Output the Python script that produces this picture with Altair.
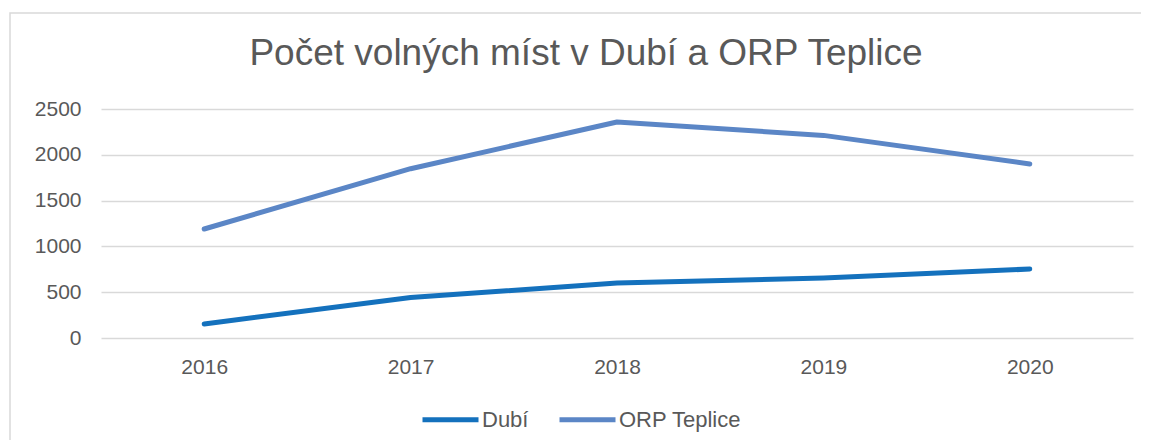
import altair as alt
import pandas as pd

years = ["2016", "2017", "2018", "2019", "2020"]
dubi = [153, 443, 600, 655, 753]
orp_teplice = [1190, 1848, 2358, 2212, 1900]
series_names = ["Dubí", "ORP Teplice"]
series_colors = ["#1471bd", "#5b86c6"]
y_ticks = [0, 500, 1000, 1500, 2000, 2500]
title_text = "Počet volných míst v Dubí a ORP Teplice"

rows = []
for name, vals in zip(series_names, [dubi, orp_teplice]):
    for yr, v in zip(years, vals):
        rows.append({"rok": yr, "hodnota": v, "serie": name})
df = pd.DataFrame(rows)

FONT = "Liberation Sans"
GRAY = "#595959"

lines = alt.Chart(df).mark_line(strokeWidth=5, strokeCap="round", strokeJoin="round").encode(
    x=alt.X("rok:O", scale=alt.Scale(type="point", padding=0.5),
            axis=alt.Axis(title=None, labelAngle=0, ticks=False, domain=False,
                          labelFontSize=21, labelColor=GRAY, labelFont=FONT, labelPadding=18, grid=False)),
    y=alt.Y("hodnota:Q", scale=alt.Scale(domain=[0, 2500], nice=False),
            axis=alt.Axis(title=None, values=y_ticks, format="d", ticks=False, domain=False,
                          labelFontSize=21, labelColor=GRAY, labelFont=FONT, labelPadding=20,
                          gridColor="#d9d9d9", gridWidth=1.4)),
    color=alt.Color("serie:N", scale=alt.Scale(domain=series_names, range=series_colors),
                    legend=alt.Legend(title=None, orient="none", legendX=319, legendY=280,
                                      direction="horizontal", symbolType="stroke",
                                      symbolSize=3136, symbolStrokeWidth=5,
                                      labelFontSize=22, labelColor=GRAY, labelFont=FONT,
                                      labelOffset=1, columnPadding=20)),
)

border = alt.Chart(alt.Data(values=[{"a": 1}])).mark_rect(
    fill="transparent", stroke="#d9d9d9", strokeWidth=1.5
).encode(
    x=alt.value(-91), x2=alt.value(1200), y=alt.value(-96), y2=alt.value(500)
)

title = alt.Chart(alt.Data(values=[{"t": title_text}])).mark_text(
    font=FONT, fontSize=37, color=GRAY, align="center", baseline="alphabetic"
).encode(
    text="t:N", x=alt.value(485), y=alt.value(-44)
)

chart = alt.layer(border, lines, title).properties(
    width=1032, height=229,
    autosize=alt.AutoSizeParams(type="none"),
    padding={"left": 93, "top": 101, "right": 8, "bottom": 102},
).configure(background="white").configure_view(stroke="transparent", strokeWidth=0, strokeOpacity=0)

chart.save("out.html", embed_options={"renderer": "svg", "actions": False})
